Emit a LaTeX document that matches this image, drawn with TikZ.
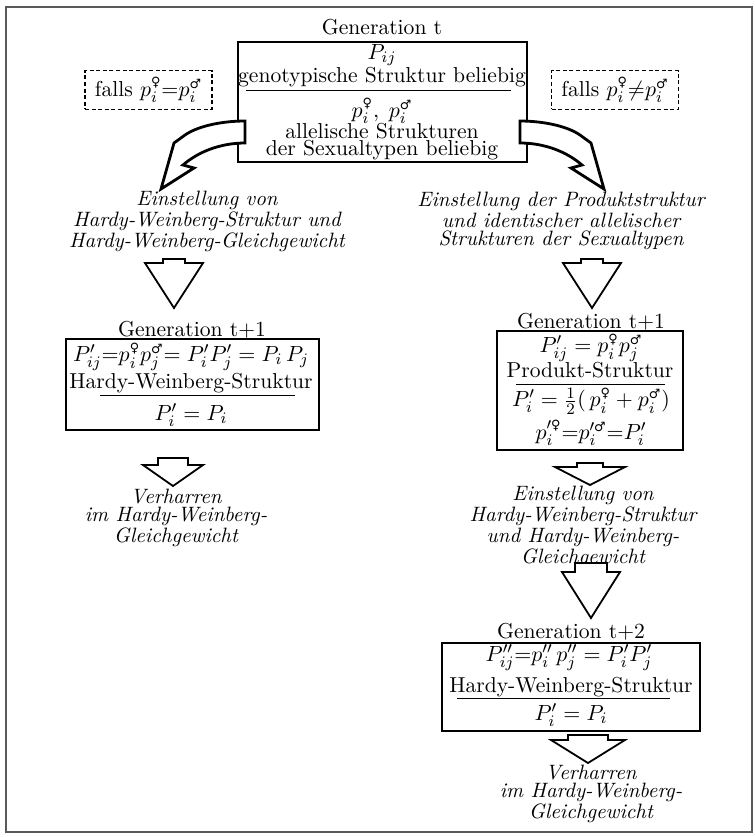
\documentclass[tikz,border=0pt]{standalone}
\usepackage{amsmath}
\usepackage{fontspec}
\newfontfamily\symbfont{DejaVu Sans}
\newcommand{\wbl}{\text{\scalebox{0.85}{\symbfont ♀}}}
\newcommand{\mnl}{\text{\scalebox{0.85}{\symbfont ♂}}}

\tikzset{
  rom/.style={font=\fontsize{10.8}{13}\selectfont, inner sep=0pt},
  ital/.style={font=\fontsize{10.4}{8.8}\selectfont\itshape, align=center, inner sep=0pt},
  genbox/.style={draw, line width=0.6pt, inner sep=0pt},
  fallsbox/.style={draw, dash pattern=on 2pt off 1.3pt, line width=0.6pt, font=\fontsize{10.8}{13}\selectfont, minimum width=63.5pt, minimum height=11.5pt},
  bendarrow/.style={draw, fill=white, line width=1.4pt, line join=miter},
  downarrow/.style={draw, fill=white, line width=0.9pt, line join=miter},
  sepline/.style={line width=0.5pt},
}

\begin{document}
\begin{tikzpicture}[x=0.5pt,y=-0.5pt]
\useasboundingbox (0,0) rectangle (755,837);
\draw[black!65, line width=1pt] (6,7) rectangle (752,832);

% Generation t
\node[rom] (gen0) at (382,27) {Generation t};
\node[genbox, minimum width=144.5pt, minimum height=60pt] (box0) at (382.5,102) {};
\node[rom] (pij0) at (382,55) {$P_{ij}$};
\node[rom, anchor=base] (geno0) at (382,82) {genotypische Struktur beliebig};
\draw[sepline] (246,90) -- (511,90);
\node[rom] (pi0) at (382,111) {$p_i^{\wbl},\; p_i^{\mnl}$};
\node[rom, anchor=base] (alle0) at (382,138) {allelische Strukturen};
\node[rom, anchor=base] (sex0) at (382,155) {der Sexualtypen beliebig};

\node[fallsbox] (fallsl) at (148.5,90) {falls $p_i^{\wbl}{=}p_i^{\mnl}$};
\node[fallsbox] (fallsr) at (615,90) {falls $p_i^{\wbl}{\neq}p_i^{\mnl}$};

% bent arrows
\draw[bendarrow] (245,121) .. controls (222,121) and (198,126) .. (185,135) -- (174,143) -- (161,189) -- (194,168) -- (183,165) .. controls (198,152) and (220,143) .. (245,143) -- cycle;
\draw[bendarrow] (520,121) .. controls (543,121) and (567,126) .. (580,135) -- (591,143) -- (604,189) -- (571,168) -- (582,165) .. controls (567,152) and (545,143) .. (520,143) -- cycle;

\node[ital] (einl) at (207,221) {Einstellung von\\Hardy-Weinberg-Struktur und\\Hardy-Weinberg-Gleichgewicht};
\node[ital] (einr) at (561,221) {Einstellung der Produktstruktur\\und identischer allelischer\\Strukturen der Sexualtypen};

\draw[downarrow] (163,259) -- (185,259) -- (185,263) -- (203,263) -- (174,308) -- (145,263) -- (163,263) -- cycle;
\draw[downarrow] (581,259) -- (603,259) -- (603,263) -- (621,263) -- (592,308) -- (563,263) -- (581,263) -- cycle;

% Generation t+1, links
\node[rom] (gen1l) at (192,330) {Generation t+1};
\node[genbox, minimum width=126.5pt, minimum height=45.5pt] (box1l) at (192.5,384.5) {};
\node[rom] (hw1l) at (191,357) {$P_{ij}'{=}p_i^{\wbl}p_j^{\mnl}{=}\;P_i'P_j'=P_i\,P_j$};
\node[rom, anchor=base] (hws1l) at (191,388) {Hardy-Weinberg-Struktur};
\draw[sepline] (100,395) -- (295,395);
\node[rom] (pi1l) at (191,415) {$P_i'=P_i$};

% Generation t+1, rechts
\node[rom] (gen1r) at (591,322) {Generation t+1};
\node[genbox, minimum width=93pt, minimum height=59.5pt] (box1r) at (590,390.5) {};
\node[rom] (pr1r) at (591,348) {$P_{ij}'=p_i^{\wbl}p_j^{\mnl}$};
\node[rom, anchor=base] (prs1r) at (590,377) {Produkt-Struktur};
\draw[sepline] (516,384) -- (665,384);
\node[rom] (pi1r) at (591,401) {$P_i'=\tfrac{1}{2}(\,p_i^{\wbl}+p_i^{\mnl})$};
\node[rom] (pq1r) at (591,433) {$p_i'^{\wbl}{=}p_i'^{\mnl}{=}P_i'$};

\draw[downarrow] (158,458) -- (188,458) -- (188,465) -- (203,465) -- (173,486) -- (143,465) -- (158,465) -- cycle;
\node[ital] (verl) at (176,518) {Verharren\\im Hardy-Weinberg-\\Gleichgewicht};

\draw[downarrow] (577,463) -- (603,463) -- (603,467) -- (625,467) -- (590,485) -- (555,467) -- (577,467) -- cycle;
\node[ital] (einm) at (583,527) {Einstellung von\\Hardy-Weinberg-Struktur\\und Hardy-Weinberg-\\Gleichgewicht};
\draw[downarrow] (575,563) -- (607,563) -- (607,572) -- (620,572) -- (591,618) -- (562,572) -- (575,572) -- cycle;

% Generation t+2
\node[rom] (gen2) at (571,632) {Generation t+2};
\node[genbox, minimum width=129pt, minimum height=44pt] (box2) at (571,687) {};
\node[rom] (hw2) at (569,658) {$P_{ij}''{=}p_i''\,p_j''=P_i'P_j'$};
\node[rom, anchor=base] (hws2) at (571,692) {Hardy-Weinberg-Struktur};
\draw[sepline] (457,698) -- (670,698);
\node[rom] (pi2) at (571,715) {$P_i'=P_i$};

\draw[downarrow] (568,735) -- (608,735) -- (608,740) -- (625,740) -- (588,763) -- (551,740) -- (568,740) -- cycle;
\node[ital] (verr) at (591,794) {Verharren\\im Hardy-Weinberg-\\Gleichgewicht};
\end{tikzpicture}
\end{document}
